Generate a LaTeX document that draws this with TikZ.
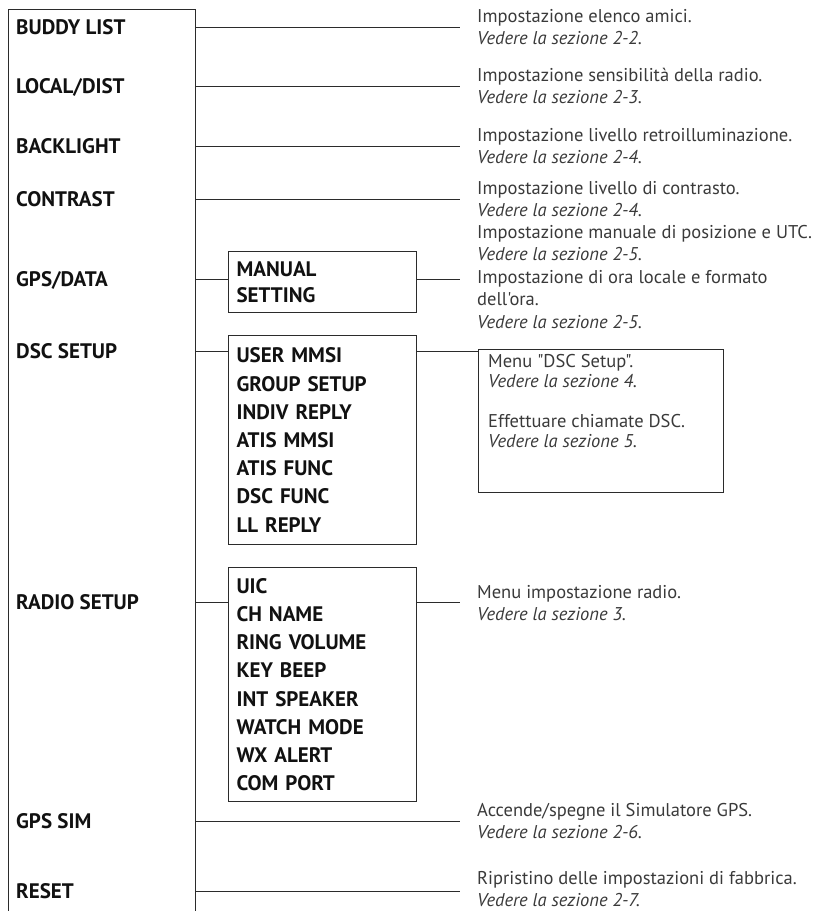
\documentclass[tikz,border=0pt]{standalone}
\usepackage{fontspec}
\newfontfamily\ptsans{PT Sans}
\usepackage{tikz}
\usetikzlibrary{positioning, calc}
\definecolor{ink}{HTML}{111111}
\definecolor{lineGray}{HTML}{2b2b2b}
\definecolor{muted}{HTML}{3a3a3a}
\newcommand{\see}[1]{\textit{Vedere la sezione #1.}}

\begin{document}
\begin{tikzpicture}[x=1pt, y=-1pt, item/.style={anchor=west, inner sep=0pt, font=\ptsans\fontsize{21}{28}\selectfont\bfseries, text=ink, text height=15pt, text depth=0pt},desc/.style={anchor=west, inner sep=0pt, align=left, font=\ptsans\fontsize{18.5}{22.5}\selectfont, text=muted},sub/.style={draw=lineGray, line width=1.1pt, anchor=north west, minimum width=188pt, text width=172pt, inner xsep=8pt, inner ysep=0pt, align=left, font=\ptsans\fontsize{21}{28.2}\selectfont\bfseries, text=ink},wire/.style={draw=lineGray, line width=1pt}]
\useasboundingbox (0,0) rectangle (813,911);
% main menu column, open at the bottom
\node[draw=lineGray, line width=1.1pt, anchor=north west, minimum width=187pt, minimum height=940pt, inner sep=0pt] (menu) at (8,9) {};
\node[item] (bl) at (16,27) {BUDDY LIST};
\node[item] (ld) at (16,86) {LOCAL/DIST};
\node[item] (bk) at (16,146) {BACKLIGHT};
\node[item] (ct) at (16,199) {CONTRAST};
\node[item] (gd) at (16,279) {GPS/DATA};
\node[item] (ds) at (16,351) {DSC SETUP};
\node[item] (rs) at (16,602) {RADIO SETUP};
\node[item] (gs) at (16,821) {GPS SIM};
\node[item] (rt) at (16,891) {RESET};
% sub menus
\node[sub, minimum height=61pt] (man) at (228,251) {MANUAL\\[-2pt]SETTING};
\node[sub, minimum height=209pt] (dsc) at (228,335) {USER MMSI\\GROUP SETUP\\INDIV REPLY\\ATIS MMSI\\ATIS FUNC\\DSC FUNC\\LL REPLY};
\node[sub, minimum height=234pt] (rad) at (228,567) {UIC\\CH NAME\\RING VOLUME\\KEY BEEP\\INT SPEAKER\\WATCH MODE\\WX ALERT\\COM PORT};
% descriptions
\node[desc] (blT) at (477,27) {Impostazione elenco amici.\\\see{2-2}};
\node[desc] (ldT) at (477,86) {Impostazione sensibilità della radio.\\\see{2-3}};
\node[desc] (bkT) at (477,146) {Impostazione livello retroilluminazione.\\\see{2-4}};
\node[desc] (ctT) at (477,199) {Impostazione livello di contrasto.\\\see{2-4}};
\node[desc] (gdT) at (477,277) {Impostazione manuale di posizione e UTC.\\\see{2-5}\\Impostazione di ora locale e formato\\dell'ora.\\\see{2-5}};
\node[draw=lineGray, line width=1.1pt, anchor=north west, minimum width=245pt, minimum height=143pt, inner sep=0pt] (dscT) at (478,349) {};
\node[desc, anchor=north west, font=\ptsans\fontsize{18.5}{20}\selectfont] (dscL) at (488,354) {Menu "DSC Setup".\\\see{4}\\[20pt]Effettuare chiamate DSC.\\\see{5}};
\node[desc] (rsT) at (477,603) {Menu impostazione radio.\\\see{3}};
\node[desc] (gsT) at (477,821) {Accende/spegne il Simulatore GPS.\\\see{2-6}};
\node[desc] (rtT) at (477,889) {Ripristino delle impostazioni di fabbrica.\\\see{2-7}};
% connectors
\draw[wire, shorten >=17pt] (menu.east |- bl) -- (blT.west |- bl);
\draw[wire, shorten >=17pt] (menu.east |- ld) -- (ldT.west |- ld);
\draw[wire, shorten >=17pt] (menu.east |- bk) -- (bkT.west |- bk);
\draw[wire, shorten >=17pt] (menu.east |- ct) -- (ctT.west |- ct);
\draw[wire] (menu.east |- gd) -- (man.west |- gd);
\draw[wire, shorten >=17pt] (man.east |- gd) -- (gdT.west |- gd);
\draw[wire] (menu.east |- ds) -- (dsc.west |- ds);
\draw[wire] (dsc.east |- ds) -- (dscT.west |- ds);
\draw[wire] (menu.east |- rs) -- (rad.west |- rs);
\draw[wire, shorten >=17pt] (rad.east |- rs) -- (rsT.west |- rs);
\draw[wire, shorten >=17pt] (menu.east |- gs) -- (gsT.west |- gs);
\draw[wire, shorten >=17pt] (menu.east |- rt) -- (rtT.west |- rt);
\end{tikzpicture}
\end{document}
